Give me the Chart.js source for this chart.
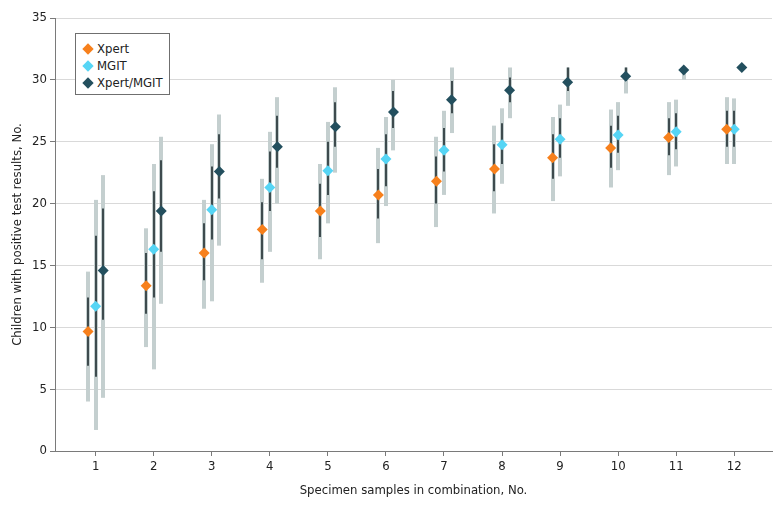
<!DOCTYPE html>
<html>
<head>
<meta charset="utf-8">
<script src="https://cdn.jsdelivr.net/npm/chart.js@4"></script>
<style>
  html, body { margin: 0; padding: 0; background: #fff; }
  #wrap { position: relative; width: 780px; height: 506px; }
  #legend {
    position: absolute; left: 75px; top: 33px; width: 95px; height: 62px;
    border: 1px solid #6f6f6f; background: #fff;
    font-family: 'DejaVu Sans Condensed', 'Liberation Sans', sans-serif; font-size: 13px; color: #222;
    padding-top: 6px; box-sizing: border-box;
  }
  #legend div { height: 17px; line-height: 17px; padding-left: 21px; position: relative; }
  #legend span {
    position: absolute; left: 8px; top: 5px; width: 8px; height: 8px; transform: rotate(45deg);
  }
</style>
</head>
<body>
<div id="wrap">
  <canvas id="grafico" width="780" height="506"></canvas>
  <div id="legend">
    <div><span style="background:#f7801c"></span>Xpert</div>
    <div><span style="background:#56d5f5"></span>MGIT</div>
    <div><span style="background:#234f5e"></span>Xpert/MGIT</div>
  </div>
</div>
<script>
'use strict';

// ── Data ─────────────────────────────────────────────
const categories = [1, 2, 3, 4, 5, 6, 7, 8, 9, 10, 11, 12];
const xTicks = [1, 2, 3, 4, 5, 6, 7, 8, 9, 10, 11, 12];
const yTicks = [0, 5, 10, 15, 20, 25, 30, 35];

// Xpert
const xpert     = [9.65, 13.35, 16.0, 17.9, 19.4, 20.7, 21.8, 22.8, 23.7, 24.5, 25.35, 26.0];
const xpertLow  = [4.0, 8.4, 11.5, 13.6, 15.5, 16.8, 18.1, 19.2, 20.2, 21.3, 22.3, 23.2];
const xpertHigh = [14.5, 18.0, 20.3, 22.0, 23.2, 24.5, 25.4, 26.3, 27.0, 27.6, 28.2, 28.6];
const xpertQ1   = [6.9, 11.1, 13.8, 15.5, 17.3, 18.8, 20.0, 21.0, 22.0, 22.9, 23.9, 24.6];
const xpertQ3   = [12.4, 16.0, 18.4, 20.1, 21.6, 22.8, 23.8, 24.8, 25.6, 26.3, 26.9, 27.5];

// MGIT
const mgit     = [11.7, 16.3, 19.5, 21.3, 22.65, 23.6, 24.3, 24.75, 25.2, 25.55, 25.8, 26.0];
const mgitLow  = [1.7, 6.6, 12.1, 16.1, 18.4, 19.8, 20.7, 21.6, 22.2, 22.7, 23.0, 23.2];
const mgitHigh = [20.3, 23.2, 24.8, 25.8, 26.6, 27.0, 27.5, 27.7, 28.0, 28.2, 28.4, 28.5];
const mgitQ1   = [6.0, 12.4, 17.1, 19.4, 20.7, 21.4, 22.6, 23.2, 23.7, 24.1, 24.4, 24.6];
const mgitQ3   = [17.4, 21.0, 23.0, 24.2, 25.0, 25.6, 26.1, 26.5, 26.9, 27.1, 27.3, 27.5];

// Xpert/MGIT
const combo     = [14.6, 19.4, 22.6, 24.6, 26.2, 27.4, 28.4, 29.15, 29.8, 30.3, 30.8, 31.0];
const comboLow  = [4.3, 11.9, 16.6, 20.0, 22.5, 24.3, 25.7, 26.9, 27.9, 28.9, 30.0, 31.0];
const comboHigh = [22.3, 25.4, 27.2, 28.6, 29.4, 30.0, 31.0, 31.0, 31.0, 31.0, 31.0, 31.0];
const comboQ1   = [10.6, 16.1, 20.4, 22.9, 24.6, 26.1, 27.3, 28.2, 29.1, 29.9, 30.5, 31.0];
const comboQ3   = [19.6, 23.5, 25.6, 27.1, 28.2, 29.1, 29.9, 30.2, 31.0, 31.0, 31.0, 31.0];

const FONT = "'DejaVu Sans Condensed', 'Liberation Sans', sans-serif";

const series = [
  { label: 'Xpert',      shift: -0.13, color: '#f7801c', mid: xpert, lo: xpertLow, hi: xpertHigh, q1: xpertQ1, q3: xpertQ3 },
  { label: 'MGIT',       shift: 0,     color: '#56d5f5', mid: mgit,  lo: mgitLow,  hi: mgitHigh,  q1: mgitQ1,  q3: mgitQ3 },
  { label: 'Xpert/MGIT', shift: 0.13,  color: '#234f5e', mid: combo, lo: comboLow, hi: comboHigh, q1: comboQ1, q3: comboQ3 }
];

// error bars drawn under the diamonds
const errorBars = {
  id: 'errorBars',
  beforeDatasetsDraw(chart) {
    const { ctx, scales: { x, y } } = chart;
    ctx.save();
    ctx.lineCap = 'butt';
    // outer range (light)
    ctx.strokeStyle = '#c4cfcf';
    ctx.lineWidth = 4;
    series.forEach(s => {
      categories.forEach((c, i) => {
        if (s.hi[i] - s.lo[i] <= 0) return;
        const px = Math.round(x.getPixelForValue(c + s.shift));
        ctx.beginPath();
        ctx.moveTo(px, y.getPixelForValue(s.lo[i]));
        ctx.lineTo(px, y.getPixelForValue(s.hi[i]));
        ctx.stroke();
      });
    });
    // inner range (dark)
    ctx.strokeStyle = '#3e4b4e';
    ctx.lineWidth = 2;
    series.forEach(s => {
      categories.forEach((c, i) => {
        if (s.q3[i] - s.q1[i] <= 0) return;
        const px = Math.round(x.getPixelForValue(c + s.shift));
        ctx.beginPath();
        ctx.moveTo(px, y.getPixelForValue(s.q1[i]));
        ctx.lineTo(px, y.getPixelForValue(s.q3[i]));
        ctx.stroke();
      });
    });
    ctx.restore();
  }
};

const ctx = document.getElementById('grafico').getContext('2d');

new Chart(ctx, {
  type: 'scatter',
  data: {
    datasets: series.map(s => ({
      label: s.label,
      data: categories.map((c, i) => ({ x: c + s.shift, y: s.mid[i] })),
      pointStyle: 'rectRot',
      pointRadius: 5.5,
      backgroundColor: s.color,
      borderColor: s.color,
      borderWidth: 0
    }))
  },
  options: {
    responsive: false,
    animation: false,
    layout: { padding: { top: 18, right: 8, left: 0, bottom: 0 } },
    plugins: { legend: { display: false }, tooltip: { enabled: false } },
    scales: {
      x: {
        type: 'linear',
        min: 0.3,
        max: 12.65,
        afterFit: s => { s.height = 55; },
        afterBuildTicks: s => { s.ticks = xTicks.map(v => ({ value: v })); },
        border: { color: '#7a7a7a', width: 1 },
        grid: { drawOnChartArea: false, tickColor: '#7a7a7a', tickLength: 5 },
        ticks: { color: '#222', font: { family: FONT, size: 13 }, padding: 3, autoSkip: false, maxRotation: 0 },
        title: { display: true, text: 'Specimen samples in combination, No.', color: '#222', font: { family: FONT, size: 13 }, padding: { top: 0, bottom: 8 } }
      },
      y: {
        min: 0,
        max: 35,
        afterFit: s => { s.width = 55; },
        afterBuildTicks: s => { s.ticks = yTicks.map(v => ({ value: v })); },
        border: { color: '#7a7a7a', width: 1 },
        grid: { color: '#d9d9d9', lineWidth: 1, tickColor: '#7a7a7a', tickLength: 5 },
        ticks: { color: '#222', font: { family: FONT, size: 13 }, padding: 3 },
        title: { display: true, text: 'Children with positive test results, No.', color: '#222', font: { family: FONT, size: 13 }, padding: { top: 10, bottom: 0 } }
      }
    }
  },
  plugins: [errorBars]
});
</script>
</body>
</html>
